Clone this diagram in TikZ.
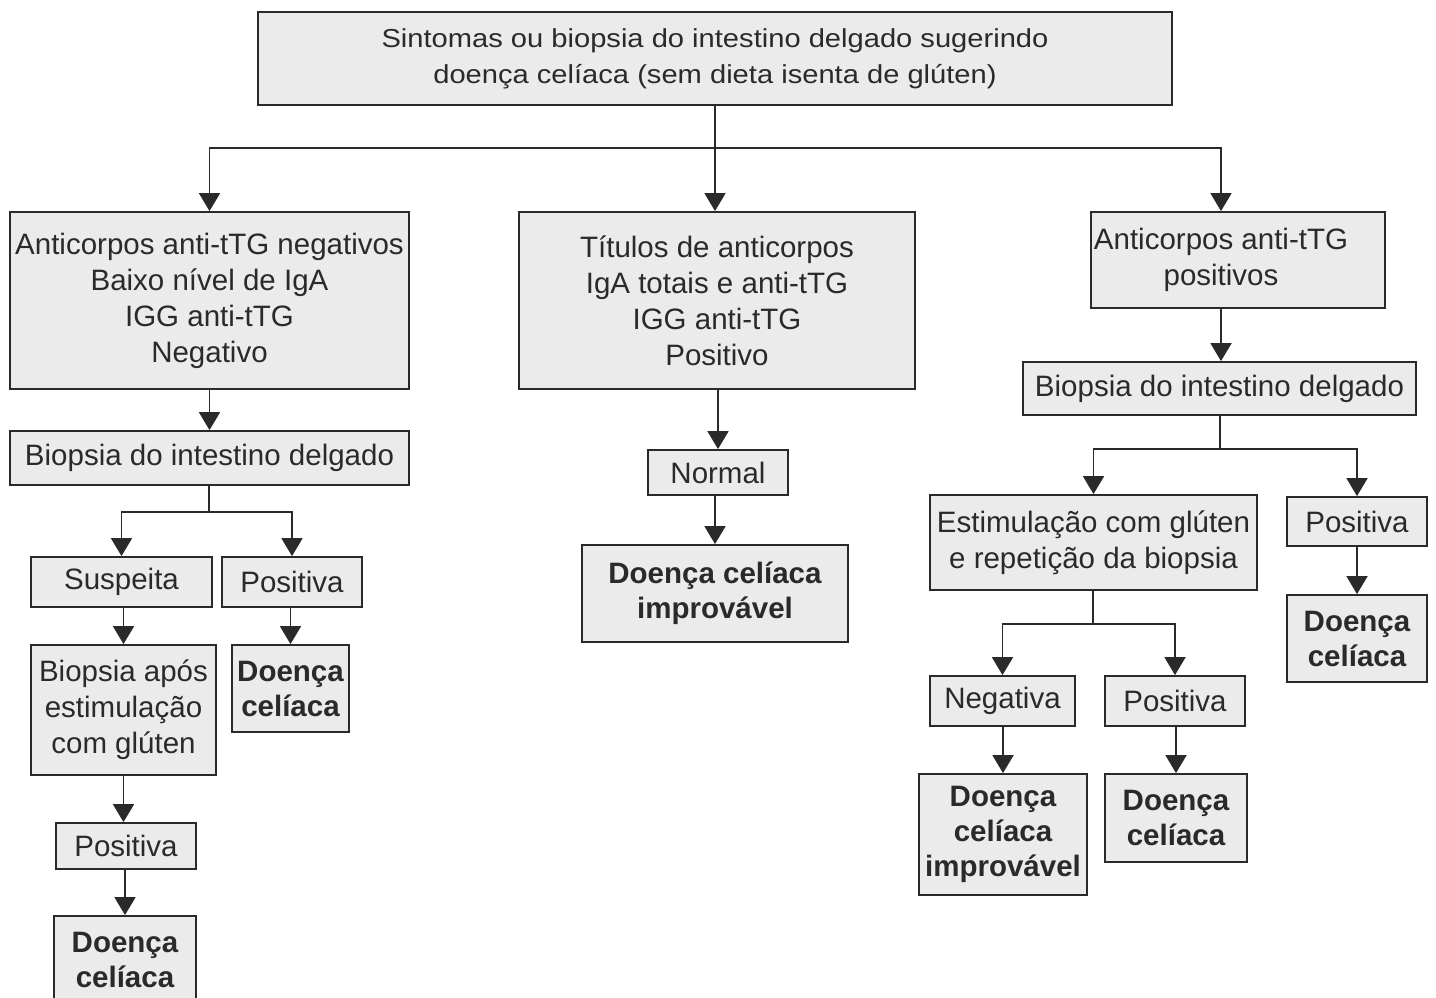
\documentclass[tikz,border=0pt]{standalone}
\usepackage{fontspec}
\setmainfont{Liberation Sans}
\newfontfamily\headfont[FakeStretch=1.12]{Liberation Sans}
\usetikzlibrary{arrows.meta}
\definecolor{boxfill}{HTML}{EBEBEB}
\definecolor{ink}{HTML}{2A2A2A}
\tikzset{
  box/.style={draw=ink, fill=boxfill, line width=1.8pt, inner sep=0pt,
    align=center, text=ink, font=\fontsize{29.5}{36}\selectfont},
  boldbox/.style={box, font=\fontsize{29.5}{35}\selectfont\bfseries},
  plain/.style={inner sep=0pt, align=center, text=ink,
    font=\fontsize{29.5}{36}\selectfont},
  link/.style={draw=ink, line width=1.8pt},
  arr/.style={link, -{Triangle[width=21pt,length=18pt]}}
}
\newcommand{\bx}[6]{% style, name, cx, cy, width, height
  \node[#1, minimum width=#5pt, minimum height=#6pt] (#2) at (#3,#4)}
\begin{document}
\begin{tikzpicture}[x=1pt,y=-1pt]
\fill[white] (0,0) rectangle (1436,998);
\clip (0,0) rectangle (1436,998);

% root
\bx{box}{top}{715}{58.5}{914}{93}
  {\headfont\fontsize{26}{36}\selectfont Sintomas ou biopsia do intestino delgado sugerindo\\
   \headfont\fontsize{26}{36}\selectfont doença celíaca (sem dieta isenta de glúten)};

% first level
\bx{box}{A}{209.5}{300.5}{399}{177}
  {Anticorpos anti-tTG negativos\\Baixo nível de IgA\\IGG anti-tTG\\Negativo};
\bx{box}{B}{717}{300.5}{396}{177}
  {Títulos de anticorpos\\IgA totais e anti-tTG\\IGG anti-tTG\\Positivo};
\bx{box}{C}{1238}{260}{294}{96}{};
\node[plain] (Ct) at (1221,260) {Anticorpos anti-tTG\\positivos};

% left branch
\bx{box}{D}{209.5}{458}{399}{54}{Biopsia do intestino delgado};
\bx{box}{susp}{121.5}{582}{181}{50}{Suspeita};
\bx{box}{posA}{292}{582}{140}{50}{Positiva};
\bx{box}{apos}{123.5}{710}{185}{130}{Biopsia após\\estimulação\\com glúten};
\bx{boldbox}{dcA}{290.5}{688.5}{117}{87}{Doença\\celíaca};
\bx{box}{posB}{126}{846}{140}{46}{Positiva};
\bx{boldbox}{dcB}{125}{959.5}{142}{87}{Doença\\celíaca};

% middle branch
\bx{box}{normal}{718}{472.5}{140}{45}{Normal};
\bx{boldbox}{impA}{715}{593.5}{266}{97}{Doença celíaca\\improvável};

% right branch
\bx{box}{E}{1219.5}{388.5}{393}{53}{Biopsia do intestino delgado};
\bx{box}{estim}{1093.5}{542.5}{327}{95}{Estimulação com glúten\\e repetição da biopsia};
\bx{box}{posC}{1357}{521.5}{140}{49}{Positiva};
\bx{boldbox}{dcC}{1357}{638.5}{140}{87}{Doença\\celíaca};
\bx{box}{neg}{1002.5}{701}{145}{50}{Negativa};
\bx{box}{posD}{1175}{701}{140}{50}{Positiva};
\bx{boldbox}{impB}{1003}{834.5}{168}{121}{Doença\\celíaca\\improvável};
\bx{boldbox}{dcD}{1176}{818}{142}{88}{Doença\\celíaca};

% junction points
\coordinate (j0) at (715,148);
\coordinate (j1) at (209,512);
\coordinate (j2) at (1220,449);
\coordinate (j3) at (1093,624);

% root fan-out
\draw[link] (top.south) -- (j0);
\draw[arr] (j0) -| (A.north);
\draw[arr] (j0) -- (j0 |- B.north);
\draw[arr] (j0) -| (Ct |- C.north);

% left branch connectors
\draw[arr] (A) -- (D);
\draw[link] (D.south -| j1) -- (j1);
\draw[arr] (j1) -| (susp.north);
\draw[arr] (j1) -| (posA.north);
\draw[arr] (susp.south -| apos.north) -- (apos.north);
\draw[arr] (posA.south -| dcA.north) -- (dcA.north);
\draw[arr] (apos.south) -- (apos.south |- posB.north);
\draw[arr] (posB.south -| dcB.north) -- (dcB.north);

% middle branch connectors
\draw[arr] (B.south -| normal.north) -- (normal.north);
\draw[arr] (normal.south -| impA.north) -- (impA.north);

% right branch connectors
\draw[arr] (Ct |- C.south) -- (Ct |- E.north);
\draw[link] (E.south -| j2) -- (j2);
\draw[arr] (j2) -| (estim.north);
\draw[arr] (j2) -| (posC.north);
\draw[arr] (posC) -- (dcC);
\draw[link] (estim.south -| j3) -- (j3);
\draw[arr] (j3) -| (neg.north);
\draw[arr] (j3) -| (posD.north);
\draw[arr] (neg.south -| impB.north) -- (impB.north);
\draw[arr] (posD.south -| dcD.north) -- (dcD.north);
\end{tikzpicture}
\end{document}
